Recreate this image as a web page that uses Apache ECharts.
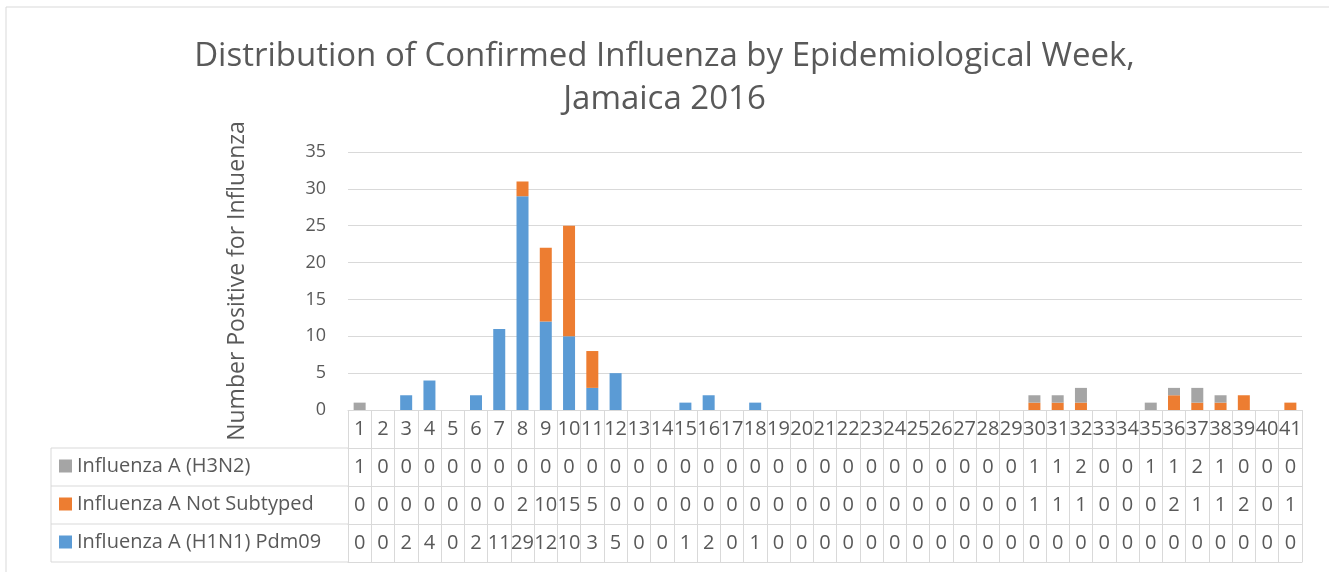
<!DOCTYPE html>
<html>
<head>
<meta charset="utf-8">
<script src="https://cdn.jsdelivr.net/npm/echarts@6/dist/echarts.min.js"></script>
<style>
  html, body { margin: 0; padding: 0; background: #fff; }
  #chart { width: 1329px; height: 572px; }
</style>
</head>
<body>
<div id="chart"></div>
<script>
// epidemiological weeks
const weeks = ['1','2','3','4','5','6','7','8','9','10','11','12','13','14','15','16','17','18','19','20',
  '21','22','23','24','25','26','27','28','29','30','31','32','33','34','35','36','37','38','39','40','41']

const h3n2 = [1,0,0,0,0,0,0,0,0,0,0,0,0,0,0,0,0,0,0,0,0,0,0,0,0,0,0,0,0,1,1,2,0,0,1,1,2,1,0,0,0]
const notSubtyped = [0,0,0,0,0,0,0,2,10,15,5,0,0,0,0,0,0,0,0,0,0,0,0,0,0,0,0,0,0,1,1,1,0,0,0,2,1,1,2,0,1]
const h1n1 = [0,0,2,4,0,2,11,29,12,10,3,5,0,0,1,2,0,1,0,0,0,0,0,0,0,0,0,0,0,0,0,0,0,0,0,0,0,0,0,0,0]

const names = ['Influenza A (H3N2)', 'Influenza A Not Subtyped', 'Influenza A (H1N1) Pdm09']
const colors = ['#a5a5a5', '#ed7d31', '#5b9bd5']

const FONT = 'Open Sans'
const TXT = '#595959'
const LINE = '#d9d9d9'
const TABLE_FS = 20

// table rows (offsets below the plot bottom)
const rowOffsets = [38, 76, 114]
const tableBottom = 152
const plotBottom = 410

const chart = echarts.init(document.getElementById('chart'))

function rowAxis(values, offset) {
  return {
    type: 'category',
    data: weeks,
    position: 'bottom',
    offset: offset,
    axisLine: { show: true, lineStyle: { color: LINE } },
    axisTick: { show: false },
    axisLabel: {
      interval: 0,
      margin: 9,
      fontFamily: FONT,
      fontSize: TABLE_FS,
      color: TXT,
      formatter: (v, i) => String(values[i]),
    },
  }
}

const leftLines = rowOffsets.concat([tableBottom]).map((o) => ({
  type: 'line',
  shape: { x1: 51, y1: plotBottom + o, x2: 348, y2: plotBottom + o },
  style: { stroke: LINE, lineWidth: 1 },
}))

chart.setOption({
  animation: false,
  title: {
    text: 'Distribution of Confirmed Influenza by Epidemiological Week,\nJamaica 2016',
    left: 'center',
    top: 30,
    textStyle: {
      fontFamily: FONT,
      fontSize: 33,
      fontWeight: 'normal',
      color: TXT,
      lineHeight: 43,
    },
  },
  legend: names.map((n, i) => ({
    data: [n],
    left: 59,
    top: plotBottom + rowOffsets[i] + 8,
    padding: 0,
    itemWidth: 13,
    itemHeight: 13,
    icon: 'rect',
    textStyle: { fontFamily: FONT, fontSize: TABLE_FS, color: TXT },
    selectedMode: false,
  })),
  grid: {
    left: 348,
    right: 27,
    top: 152,
    bottom: 572 - plotBottom,
  },
  xAxis: [
    {
      type: 'category',
      data: weeks,
      axisLine: { show: true, lineStyle: { color: LINE } },
      axisTick: { show: true, interval: 0, length: tableBottom, lineStyle: { color: LINE } },
      axisLabel: { interval: 0, margin: 9, fontFamily: FONT, fontSize: TABLE_FS, color: TXT },
    },
    rowAxis(h3n2, rowOffsets[0]),
    rowAxis(notSubtyped, rowOffsets[1]),
    rowAxis(h1n1, rowOffsets[2]),
    {
      type: 'category',
      data: weeks,
      position: 'bottom',
      offset: tableBottom,
      axisLine: { show: true, lineStyle: { color: LINE } },
      axisTick: { show: false },
      axisLabel: { show: false },
    },
  ],
  yAxis: {
    type: 'value',
    min: 0,
    max: 35,
    interval: 5,
    name: 'Number Positive for Influenza',
    nameLocation: 'middle',
    nameGap: 99,
    nameTextStyle: { fontFamily: FONT, fontSize: 23, color: TXT },
    axisLabel: { margin: 22, fontFamily: FONT, fontSize: 18, color: TXT },
    axisLine: { show: false },
    axisTick: { show: false },
    splitLine: { lineStyle: { color: LINE } },
  },
  series: [
    { name: names[2], type: 'bar', stack: 'flu', data: h1n1, barWidth: 12, itemStyle: { color: colors[2] } },
    { name: names[1], type: 'bar', stack: 'flu', data: notSubtyped, barWidth: 12, itemStyle: { color: colors[1] } },
    { name: names[0], type: 'bar', stack: 'flu', data: h3n2, barWidth: 12, itemStyle: { color: colors[0] } },
  ],
  graphic: [
    // outer chart border
    {
      type: 'rect',
      shape: { x: 6, y: 7, width: 1340, height: 600 },
      style: { fill: 'none', stroke: LINE, lineWidth: 1 },
      silent: true,
    },
    // left (legend) column of the data table
    {
      type: 'line',
      shape: { x1: 51, y1: plotBottom + rowOffsets[0], x2: 51, y2: plotBottom + tableBottom },
      style: { stroke: LINE, lineWidth: 1 },
    },
    ...leftLines,
  ],
})
</script>
</body>
</html>
